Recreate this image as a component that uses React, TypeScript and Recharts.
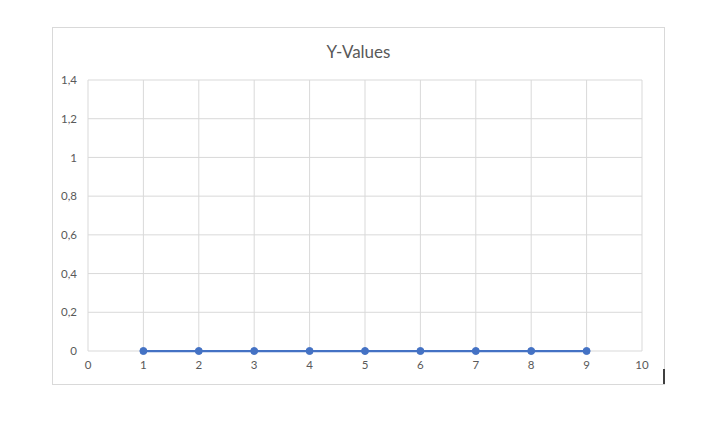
import React from 'react';
import { LineChart, Line, XAxis, YAxis, CartesianGrid } from 'recharts';

// Точки серии "Y-Values"
const xValues = [1, 2, 3, 4, 5, 6, 7, 8, 9];
const yValues = [0, 0, 0, 0, 0, 0, 0, 0, 0];
const xTicks = [0, 1, 2, 3, 4, 5, 6, 7, 8, 9, 10];
const yTicks = [0, 0.2, 0.4, 0.6, 0.8, 1, 1.2, 1.4];

const data = xValues.map((x, i) => ({ x, y: yValues[i] }));

const textColor = '#595959';
const gridColor = '#d9d9d9';
const lineColor = '#4472C4';
const fontFamily = 'Lato, "Open Sans", sans-serif';

const fmt = (v: number) => String(v).replace('.', ',');

const App: React.FC = () => {
  return (
    <div style={{ position: 'relative', width: 707, height: 421, background: '#fff', fontFamily }}>
      <style>{'body{margin:0}'}</style>
      {/* рамка области диаграммы */}
      <div
        style={{
          position: 'absolute',
          left: 52,
          top: 27,
          width: 611,
          height: 356,
          border: `1px solid ${gridColor}`,
        }}
      />
      <div
        style={{
          position: 'absolute',
          left: 52,
          width: 613,
          top: 41,
          textAlign: 'center',
          fontSize: 17,
          color: textColor,
        }}
      >
        Y-Values
      </div>
      <div style={{ position: 'absolute', left: 663, top: 369, width: 2, height: 15, background: '#404040' }} />
      <div style={{ position: 'absolute', left: 0, top: 0 }}>
        <LineChart width={707} height={421} data={data} margin={{ top: 80, right: 65, bottom: 40, left: 48 }}>
          <CartesianGrid stroke={gridColor} strokeWidth={1} />
          <XAxis
            dataKey="x"
            type="number"
            domain={[0, 10]}
            ticks={xTicks}
            height={30}
            axisLine={false}
            tickLine={false}
            tickSize={0}
            tickMargin={10}
            tick={{ fontSize: 11.5, fill: textColor, fontFamily }}
          />
          <YAxis
            type="number"
            domain={[0, 1.4]}
            ticks={yTicks}
            width={40}
            axisLine={false}
            tickLine={false}
            tickSize={0}
            tickMargin={11}
            tickFormatter={fmt}
            tick={{ fontSize: 11.5, fill: textColor, fontFamily }}
          />
          <Line
            dataKey="y"
            stroke={lineColor}
            strokeWidth={2.25}
            dot={{ r: 3.5, fill: lineColor, stroke: lineColor, strokeWidth: 1 }}
            isAnimationActive={false}
          />
        </LineChart>
      </div>
    </div>
  );
};

export default App;
